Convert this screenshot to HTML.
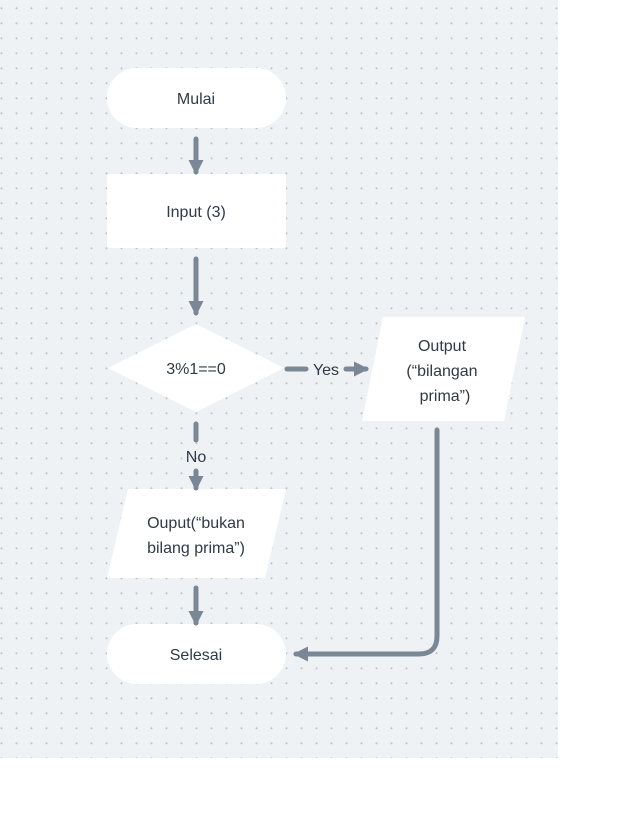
<!DOCTYPE html>
<html><head><meta charset="utf-8"><style>
html,body{margin:0;padding:0;background:#fff;}
svg{display:block;}
text{font-family:"Liberation Sans","DejaVu Sans",sans-serif;font-size:16px;fill:#2e3a46;text-anchor:middle;}
</style></head><body>
<svg width="642" height="840" viewBox="0 0 642 840" xmlns="http://www.w3.org/2000/svg">
<defs>
<pattern id="dots" x="0" y="0" width="15" height="15" patternUnits="userSpaceOnUse" patternTransform="translate(1.5,8.3)">
<circle cx="0" cy="0" r="1" fill="#b8bfc7"/><circle cx="15" cy="0" r="1" fill="#b8bfc7"/><circle cx="0" cy="15" r="1" fill="#b8bfc7"/><circle cx="15" cy="15" r="1" fill="#b8bfc7"/>
</pattern>
<marker id="ah" viewBox="0 0 10 10" refX="8" refY="5" markerWidth="3" markerHeight="3" orient="auto" markerUnits="strokeWidth">
<path d="M0,0 L10,5 L0,10 z" fill="#7a8896"/></marker>
</defs>
<rect x="0" y="0" width="558" height="758" fill="#eff2f5"/>
<rect x="0" y="0" width="558" height="758" fill="url(#dots)"/>
<g fill="#fff">
<rect x="107" y="68" width="179" height="60" rx="30"/>
<rect x="107" y="174" width="179" height="74" rx="2"/>
<polygon points="108,368 196,324 284,368 196,412"/>
<polygon points="383,317 525,317 504,421 362,421"/>
<polygon points="128,489 286,489 265,578 107,578"/>
<rect x="107" y="624" width="179" height="60" rx="30"/>
</g>
<g stroke="#7a8896" stroke-width="5" fill="none" stroke-linecap="round">
<line x1="196" y1="139" x2="196" y2="172" marker-end="url(#ah)"/>
<line x1="196" y1="259" x2="196" y2="313" marker-end="url(#ah)"/>
<line x1="287" y1="369" x2="306" y2="369"/>
<line x1="346" y1="369" x2="366" y2="369" marker-end="url(#ah)"/>
<line x1="196" y1="424" x2="196" y2="440"/>
<line x1="196" y1="471" x2="196" y2="488" marker-end="url(#ah)"/>
<line x1="196" y1="588" x2="196" y2="623" marker-end="url(#ah)"/>
<path d="M437,430 L437,636 Q437,654 419,654 L296,654" marker-end="url(#ah)"/>
</g>
<text x="196" y="104">Mulai</text>
<text x="196" y="217">Input (3)</text>
<text x="196" y="374">3%1==0</text>
<text x="326" y="375">Yes</text>
<text x="442" y="351">Output</text>
<text x="442" y="376">(“bilangan</text>
<text x="445" y="401">prima”)</text>
<text x="196" y="462">No</text>
<text x="196" y="528">Ouput(“bukan</text>
<text x="196" y="553">bilang prima”)</text>
<text x="196" y="660">Selesai</text>
</svg>
</body></html>
